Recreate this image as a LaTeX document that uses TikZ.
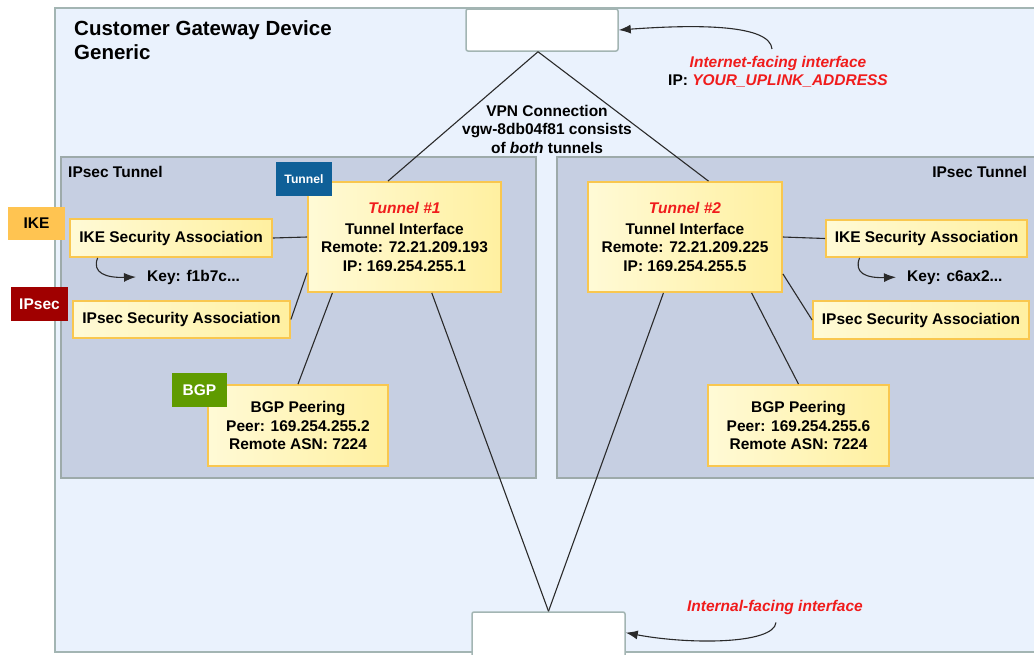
\documentclass[tikz,border=0pt]{standalone}
\usepackage{fontspec}
\setmainfont{Liberation Sans}
\usetikzlibrary{arrows.meta,calc}
\definecolor{outerfill}{HTML}{EAF2FD}
\definecolor{outerline}{HTML}{A3B5B3}
\definecolor{areafill}{HTML}{C6CFE2}
\definecolor{arealine}{HTML}{9DAAAA}
\definecolor{yelA}{HTML}{FFFAD6}
\definecolor{yelB}{HTML}{FFF0A0}
\definecolor{yborder}{HTML}{F9C74F}
\definecolor{redt}{HTML}{F01C1C}
\definecolor{ikecol}{HTML}{FFC451}
\definecolor{ipseccol}{HTML}{A00000}
\definecolor{bgpcol}{HTML}{5F9B00}
\definecolor{tuncol}{HTML}{0F6098}
\definecolor{linecol}{HTML}{2A2A2A}
\newcommand\bxfont{\fontsize{15.5}{18.5}\selectfont\bfseries}
\begin{document}
\begin{tikzpicture}[x=1pt,y=-1pt,
  box/.style={draw=yborder, line width=1.8pt, left color=yelA, right color=yelB,
    inner sep=0pt, align=center, font=\bxfont},
  tag/.style={inner sep=0pt, font=\bxfont, minimum height=34pt},
  iface/.style={draw=outerline, fill=white, line width=1.5pt, rounded corners=2pt, inner sep=0pt},
  conn/.style={draw=linecol, line width=1.1pt},
  arr/.style={conn, -{Latex[length=12pt,width=9pt]}},
  txt/.style={inner sep=0pt, font=\bxfont, align=center}]
\useasboundingbox (0,0) rectangle (1034,654);
\clip (0,0) rectangle (1034,654);
% outer frame
\draw[fill=outerfill, draw=outerline, line width=2pt] (55,8) rectangle (1045,652);
\node[inner sep=0pt, anchor=north west, align=left, font=\fontsize{20.5}{24}\selectfont\bfseries] (title) at (74,20.3) {Customer Gateway Device\\Generic};
% IPsec areas
\draw[fill=areafill, draw=arealine, line width=2pt] (61,157) rectangle (536,478);
\draw[fill=areafill, draw=arealine, line width=2pt] (557,157) rectangle (1045,478);
\node[txt, anchor=base west] (ltun) at (68,177) {IPsec Tunnel};
\node[txt, anchor=base east] (rtun) at (1027,177) {IPsec Tunnel};
% interface boxes
\node[iface, minimum width=152pt, minimum height=42pt] (top) at (542,30) {};
\node[iface, minimum width=153pt, minimum height=52pt] (bot) at (548.5,638) {};
% tunnel boxes
\node[box, minimum width=193pt, minimum height=110pt] (t1) at (404.5,237)
  {\textcolor{redt}{\itshape Tunnel \#1}\\[2pt]Tunnel Interface\\Remote: 72.21.209.193\\IP: 169.254.255.1};
\node[box, minimum width=194pt, minimum height=110pt] (t2) at (685,237)
  {\textcolor{redt}{\itshape Tunnel \#2}\\[2pt]Tunnel Interface\\Remote: 72.21.209.225\\IP: 169.254.255.5};
\node[box, minimum width=202pt, minimum height=38pt] (ikeA) at (171,238) {IKE Security Association};
\node[box, minimum width=217pt, minimum height=37pt] (ipsA) at (181.5,319.5) {IPsec Security Association};
\node[box, minimum width=201pt, minimum height=37pt] (ikeB) at (926.5,238.5) {IKE Security Association};
\node[box, minimum width=216pt, minimum height=38pt] (ipsB) at (921,320) {IPsec Security Association};
\node[box, minimum width=180pt, minimum height=81pt] (bgpA) at (298,425.5)
  {BGP Peering\\Peer: 169.254.255.2\\Remote ASN: 7224};
\node[box, minimum width=181pt, minimum height=81pt] (bgpB) at (798.5,425.5)
  {BGP Peering\\Peer: 169.254.255.6\\Remote ASN: 7224};
% tags
\node[tag, fill=ikecol, minimum width=57pt, minimum height=33pt] (ikeT) at (36.5,223.5) {IKE};
\node[tag, fill=ipseccol, text=white, minimum width=57pt] (ipsT) at (39.5,304) {IPsec};
\node[tag, fill=bgpcol, text=white, minimum width=55pt] (bgpT) at (199.5,390) {BGP};
\node[tag, fill=tuncol, text=white, minimum width=56pt, font=\fontsize{12.2}{14}\selectfont\bfseries] (tunT) at (304,179) {Tunnel};
% key texts
\node[txt, anchor=base west] (key1) at (147,281) {Key: f1b7c...};
\node[txt, anchor=base west] (key2) at (907,281) {Key: c6ax2...};
% labels
\node[txt] (vpn) at (547,129) {\fontsize{15.5}{19}\selectfont VPN Connection\\vgw-8db04f81 consists\\of \textit{both} tunnels};
\node[txt] (inet) at (778,72) {\textcolor{redt}{\itshape Internet-facing interface}\\IP: \textcolor{redt}{\itshape YOUR\_UPLINK\_ADDRESS}};
\node[txt] (intl) at (775,607) {\textcolor{redt}{\itshape Internal-facing interface}};
% connectors
\coordinate (apex) at ($(top.south west)!0.474!(top.south east)$);
\draw[conn] (apex) -- ($(t1.north west)!0.415!(t1.north east)$);
\draw[conn] (apex) -- ($(t2.north west)!0.62!(t2.north east)$);
\draw[conn] (bot.north) -- ($(t1.south west)!0.64!(t1.south east)$);
\draw[conn] (bot.north) -- ($(t2.south west)!0.39!(t2.south east)$);
\draw[conn] ($(t1.south west)!0.13!(t1.south east)$) -- (bgpA.north);
\draw[conn] ($(t2.south west)!0.84!(t2.south east)$) -- (bgpB.north);
\draw[conn] (ikeA.east) -- (t1.west);
\draw[conn] (ipsA.east) -- ($(t1.north west)!0.82!(t1.south west)$);
\draw[conn] (ikeB.west) -- (t2.east);
\draw[conn] (ipsB.west) -- ($(t2.north east)!0.83!(t2.south east)$);
% key arrows
\draw[arr] ($(ikeA.south west)!0.14!(ikeA.south east)$) .. controls +(-6,15) and +(-30,1) .. ($(key1.west)+(-11,0)$);
\draw[arr] ($(ikeB.south west)!0.17!(ikeB.south east)$) .. controls +(-6,15) and +(-30,1) .. ($(key2.west)+(-11,0)$);
% interface arrows
\draw[arr] ($(inet.north)+(-6,-7)$) .. controls +(-2,-24) and +(82,-6) .. (top.east);
\draw[arr] ($(intl.south)+(1,8)$) .. controls +(-2,22) and +(63,12) .. ($(bot.north east)!0.4!(bot.south east)$);
\end{tikzpicture}
\end{document}
